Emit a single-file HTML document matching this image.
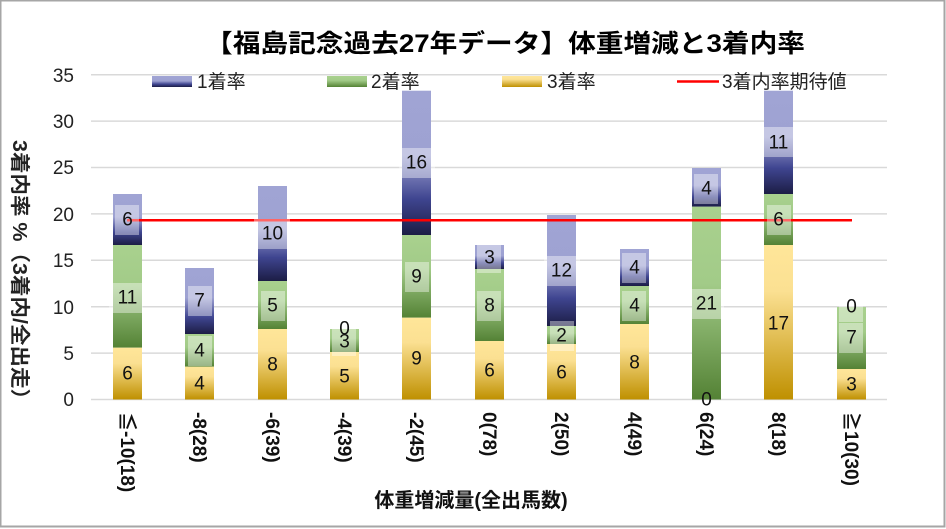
<!DOCTYPE html>
<html><head><meta charset="utf-8"><style>
html,body{margin:0;padding:0;background:#fff}
svg{display:block;font-family:"Liberation Sans","Noto Sans CJK JP",sans-serif}
</style></head><body>
<svg width="946" height="529" viewBox="0 0 946 529" xmlns="http://www.w3.org/2000/svg">
<defs>
<linearGradient id="gb" x1="0" y1="0" x2="0" y2="1"><stop offset="0" stop-color="#a0a4d4"/><stop offset="0.45" stop-color="#9ea2d2"/><stop offset="0.75" stop-color="#3f4590"/><stop offset="1" stop-color="#1c1d45"/></linearGradient>
<linearGradient id="gg" x1="0" y1="0" x2="0" y2="1"><stop offset="0" stop-color="#a9d18e"/><stop offset="0.4" stop-color="#a2cb88"/><stop offset="1" stop-color="#548235"/></linearGradient>
<linearGradient id="gy" x1="0" y1="0" x2="0" y2="1"><stop offset="0" stop-color="#ffe699"/><stop offset="0.3" stop-color="#fbe092"/><stop offset="1" stop-color="#bf9000"/></linearGradient>
</defs>
<rect x="0.5" y="0.5" width="944" height="526" fill="#fff" stroke="#a6a6a6" stroke-width="2"/>
<text x="505" y="52" font-size="25" font-weight="bold" text-anchor="middle" textLength="600" lengthAdjust="spacingAndGlyphs">【福島記念過去27年データ】体重増減と3着内率</text>
<g stroke="#d9d9d9" stroke-width="1.5">
<line x1="91" x2="887" y1="74.7" y2="74.7"/><line x1="91" x2="887" y1="121.1" y2="121.1"/><line x1="91" x2="887" y1="167.5" y2="167.5"/><line x1="91" x2="887" y1="213.9" y2="213.9"/><line x1="91" x2="887" y1="260.3" y2="260.3"/><line x1="91" x2="887" y1="306.7" y2="306.7"/><line x1="91" x2="887" y1="353.1" y2="353.1"/><line x1="91" x2="887" y1="399.5" y2="399.5"/>
</g>
<g font-size="19" text-anchor="end" fill="#222">
<text x="74" y="82">35</text><text x="74" y="128">30</text><text x="74" y="174">25</text><text x="74" y="221">20</text><text x="74" y="267">15</text><text x="74" y="314">10</text><text x="74" y="360">5</text><text x="74" y="406">0</text>
</g>
<text transform="translate(13,275) rotate(90)" font-size="20" font-weight="bold" text-anchor="middle" fill="#222" textLength="270" lengthAdjust="spacingAndGlyphs">3着内率 %（3着内/全出走）</text>
<rect x="152" y="76" width="40" height="11" fill="url(#gb)"/><text x="197" y="88" font-size="19" fill="#222">1着率</text>
<rect x="327" y="76" width="40" height="11" fill="url(#gg)"/><text x="371" y="88" font-size="19" fill="#222">2着率</text>
<rect x="502" y="76" width="40" height="11" fill="url(#gy)"/><text x="547" y="88" font-size="19" fill="#222">3着率</text>
<line x1="677" x2="719" y1="81.5" y2="81.5" stroke="#f00" stroke-width="2.5"/><text x="722" y="88" font-size="19" fill="#222">3着内率期待値</text>
<g>
<rect x="113" y="194" width="29" height="51" fill="url(#gb)"/><rect x="113" y="245" width="29" height="102.7" fill="url(#gg)"/><rect x="113" y="347.7" width="29" height="51.8" fill="url(#gy)"/>
<rect x="185" y="268" width="29" height="66" fill="url(#gb)"/><rect x="185" y="334" width="29" height="32.7" fill="url(#gg)"/><rect x="185" y="366.7" width="29" height="32.8" fill="url(#gy)"/>
<rect x="258" y="186" width="29" height="95" fill="url(#gb)"/><rect x="258" y="281" width="29" height="48" fill="url(#gg)"/><rect x="258" y="329" width="29" height="70.5" fill="url(#gy)"/>
<rect x="330" y="329" width="29" height="23" fill="url(#gg)"/><rect x="330" y="352" width="29" height="47.5" fill="url(#gy)"/>
<rect x="402" y="90.7" width="29" height="144.3" fill="url(#gb)"/><rect x="402" y="235" width="29" height="82.7" fill="url(#gg)"/><rect x="402" y="317.7" width="29" height="81.8" fill="url(#gy)"/>
<rect x="475" y="245" width="29" height="24" fill="url(#gb)"/><rect x="475" y="269" width="29" height="72" fill="url(#gg)"/><rect x="475" y="341" width="29" height="58.5" fill="url(#gy)"/>
<rect x="547" y="215" width="29" height="111" fill="url(#gb)"/><rect x="547" y="326" width="29" height="18" fill="url(#gg)"/><rect x="547" y="344" width="29" height="55.5" fill="url(#gy)"/>
<rect x="620" y="249" width="29" height="37" fill="url(#gb)"/><rect x="620" y="286" width="29" height="38" fill="url(#gg)"/><rect x="620" y="324" width="29" height="75.5" fill="url(#gy)"/>
<rect x="692" y="168" width="29" height="38.7" fill="url(#gb)"/><rect x="692" y="206.7" width="29" height="192.8" fill="url(#gg)"/>
<rect x="764" y="90.7" width="29" height="103.3" fill="url(#gb)"/><rect x="764" y="194" width="29" height="51" fill="url(#gg)"/><rect x="764" y="245" width="29" height="154.5" fill="url(#gy)"/>
<rect x="837" y="307" width="29" height="62" fill="url(#gg)"/><rect x="837" y="369" width="29" height="30.5" fill="url(#gy)"/>
</g>
<line x1="127" x2="852" y1="220.3" y2="220.3" stroke="#f00" stroke-width="2.5"/>
<g fill="#fff" fill-opacity="0.4">
<rect x="115" y="205" width="24" height="30"/><rect x="109" y="283" width="34" height="30"/>
<rect x="188" y="286" width="24" height="30"/><rect x="188" y="336" width="24" height="30"/>
<rect x="254" y="219" width="36" height="30"/><rect x="261" y="291" width="24" height="30"/>
<rect x="332" y="314" width="24" height="42"/>
<rect x="399" y="148" width="36" height="30"/><rect x="405" y="262" width="24" height="30"/>
<rect x="477" y="243" width="24" height="30"/><rect x="477" y="291" width="24" height="30"/>
<rect x="544" y="256" width="36" height="30"/><rect x="550" y="321" width="24" height="30"/>
<rect x="622" y="253" width="24" height="30"/><rect x="622" y="291" width="24" height="30"/>
<rect x="694" y="174" width="24" height="30"/><rect x="692" y="289" width="32" height="30"/>
<rect x="761" y="127" width="36" height="30"/><rect x="767" y="205" width="24" height="30"/>
<rect x="839" y="292" width="24" height="30"/><rect x="839" y="323" width="24" height="30"/>
</g>
<g font-size="19" text-anchor="middle" fill="#111" dominant-baseline="central">
<text x="127.5" y="374">6</text><text x="127.5" y="298">11</text><text x="127.5" y="220">6</text>
<text x="199.5" y="384">4</text><text x="199.5" y="351">4</text><text x="199.5" y="301">7</text>
<text x="272.5" y="365">8</text><text x="272.5" y="306">5</text><text x="272.5" y="234">10</text>
<text x="344.5" y="377">5</text><text x="344.5" y="342">3</text><text x="344.5" y="329">0</text>
<text x="416.5" y="359">9</text><text x="416.5" y="277">9</text><text x="416.5" y="163">16</text>
<text x="489.5" y="371">6</text><text x="489.5" y="306">8</text><text x="489.5" y="258">3</text>
<text x="561.5" y="373">6</text><text x="561.5" y="336">2</text><text x="561.5" y="271">12</text>
<text x="634.5" y="363">8</text><text x="634.5" y="306">4</text><text x="634.5" y="268">4</text>
<text x="706.5" y="400">0</text><text x="706.5" y="304">21</text><text x="706.5" y="189">4</text>
<text x="778.5" y="324">17</text><text x="778.5" y="220">6</text><text x="778.5" y="143">11</text>
<text x="851.5" y="385">3</text><text x="851.5" y="338">7</text><text x="851.5" y="307">0</text>
</g>
<g font-size="19" font-weight="bold" fill="#111">
<text transform="translate(121,412) rotate(90)">≦-10(18)</text>
<text transform="translate(193,412) rotate(90)">-8(28)</text>
<text transform="translate(266,412) rotate(90)">-6(39)</text>
<text transform="translate(338,412) rotate(90)">-4(39)</text>
<text transform="translate(410,412) rotate(90)">-2(45)</text>
<text transform="translate(483,412) rotate(90)">0(78)</text>
<text transform="translate(555,412) rotate(90)">2(50)</text>
<text transform="translate(628,412) rotate(90)">4(49)</text>
<text transform="translate(700,412) rotate(90)">6(24)</text>
<text transform="translate(772,412) rotate(90)">8(18)</text>
<text transform="translate(845,412) rotate(90)">≧10(30)</text>
</g>
<text x="471" y="507" font-size="20" font-weight="bold" text-anchor="middle" fill="#111">体重増減量(全出馬数)</text>
</svg>
</body></html>
